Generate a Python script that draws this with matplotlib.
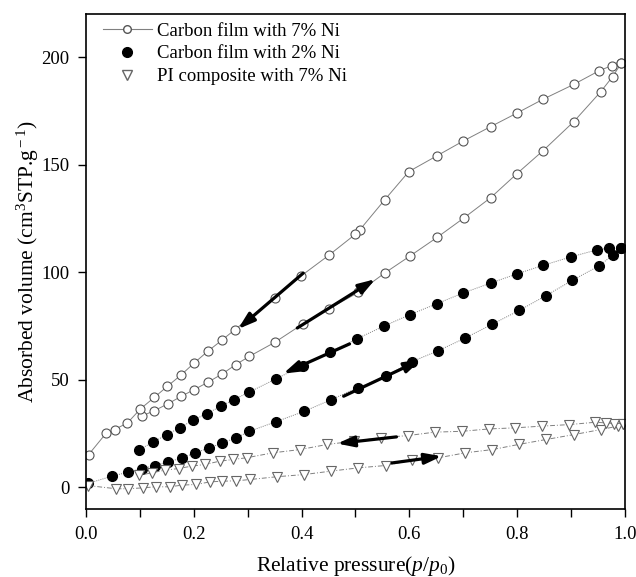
import matplotlib
matplotlib.use('Agg')
import matplotlib.pyplot as plt
from matplotlib.lines import Line2D
import numpy as np

plt.rcParams['font.family'] = ['Liberation Serif', 'DejaVu Serif']
plt.rcParams['mathtext.fontset'] = 'custom'
plt.rcParams['mathtext.rm'] = 'Liberation Serif'
plt.rcParams['mathtext.it'] = 'Liberation Serif:italic'

# Carbon film with 7% Ni (open circles)
c7_ads_x = [0.103, 0.127, 0.153, 0.177, 0.201, 0.227, 0.253, 0.278, 0.303, 0.350,
            0.403, 0.450, 0.505, 0.554, 0.602, 0.652, 0.702, 0.751, 0.799, 0.848,
            0.905, 0.955, 0.977, 0.993]
c7_ads_y = [33.1, 35.7, 39.0, 42.4, 45.5, 49.0, 52.8, 57.1, 60.9, 67.4,
            76.1, 82.9, 90.6, 99.6, 107.7, 116.3, 125.4, 134.7, 145.7, 156.5,
            170.0, 183.9, 190.9, 197.1]
c7_des_x = [0.993, 0.975, 0.951, 0.905, 0.848, 0.799, 0.751, 0.700, 0.651, 0.599,
            0.554, 0.508, 0.500, 0.450, 0.398, 0.350, 0.276, 0.252, 0.226, 0.201,
            0.177, 0.151, 0.127, 0.101, 0.077, 0.053, 0.037, 0.005]
c7_des_y = [197.1, 196.0, 193.5, 187.3, 180.4, 173.9, 167.7, 161.0, 154.1, 146.8,
            133.6, 119.7, 117.7, 107.8, 98.1, 88.0, 73.3, 68.4, 63.3, 57.9,
            52.4, 47.0, 41.9, 36.5, 30.0, 26.9, 25.1, 15.3]

# Carbon film with 2% Ni (filled circles)
c2_ads_x = [0.004, 0.049, 0.078, 0.103, 0.128, 0.153, 0.179, 0.203, 0.229, 0.253,
            0.279, 0.303, 0.352, 0.405, 0.455, 0.504, 0.556, 0.605, 0.654, 0.704,
            0.754, 0.804, 0.853, 0.902, 0.952, 0.978, 0.993]
c2_ads_y = [1.9, 5.3, 7.1, 8.7, 10.2, 11.9, 13.8, 16.1, 18.4, 20.7,
            23.1, 26.1, 30.5, 35.4, 40.8, 46.3, 51.6, 58.5, 63.6, 69.5,
            75.9, 82.3, 89.1, 96.2, 103.0, 108.1, 111.2]
c2_des_x = [0.993, 0.971, 0.948, 0.899, 0.848, 0.799, 0.751, 0.699, 0.651, 0.601,
            0.552, 0.502, 0.452, 0.402, 0.352, 0.302, 0.274, 0.250, 0.224, 0.198,
            0.174, 0.150, 0.124, 0.099]
c2_des_y = [111.2, 111.2, 110.4, 107.1, 103.2, 99.2, 95.0, 90.3, 85.4, 80.3,
            74.9, 69.0, 62.8, 56.6, 50.4, 44.2, 40.8, 37.7, 34.3, 31.2,
            27.7, 24.6, 21.0, 17.6]

# PI composite with 7% Ni (open triangles)
pi_ads_x = [0.003, 0.056, 0.078, 0.105, 0.129, 0.155, 0.179, 0.205, 0.230, 0.253,
            0.279, 0.305, 0.355, 0.405, 0.455, 0.505, 0.556, 0.605, 0.654, 0.704,
            0.754, 0.803, 0.854, 0.906, 0.955, 0.987, 0.996]
pi_ads_y = [0.9, -0.6, -0.6, -0.2, 0.3, 0.3, 1.1, 1.4, 2.6, 2.9,
            3.1, 3.7, 5.0, 6.0, 7.6, 9.1, 10.2, 12.7, 13.8, 16.1,
            17.6, 20.0, 22.3, 24.6, 26.9, 28.5, 29.7]
pi_des_x = [0.996, 0.980, 0.964, 0.945, 0.896, 0.846, 0.796, 0.748, 0.698, 0.647,
            0.597, 0.547, 0.497, 0.448, 0.397, 0.347, 0.298, 0.273, 0.248, 0.221,
            0.196, 0.172, 0.146, 0.122, 0.098]
pi_des_y = [29.7, 29.7, 30.0, 30.3, 29.2, 28.5, 27.7, 27.2, 26.1, 25.7,
            24.1, 23.1, 21.5, 20.0, 17.6, 16.1, 13.8, 13.0, 12.2, 10.7,
            9.9, 8.8, 8.0, 6.8, 5.6]

# arrows: (x_from, y_from, x_to, y_to)
arrows = [(0.403, 99.6, 0.282, 73.6),
          (0.392, 74.1, 0.537, 96.8),
          (0.489, 66.7, 0.366, 52.9),
          (0.478, 42.4, 0.622, 59.4),
          (0.576, 23.5, 0.466, 20.4),
          (0.568, 11.4, 0.660, 14.5)]

fig = plt.figure(figsize=(6.36, 5.77), dpi=100)
ax = fig.add_axes([0.1352, 0.1179, 0.8475, 0.8578])

lc = '#808080'
# open circles
for xs, ys in [(c7_ads_x, c7_ads_y), (c7_des_x, c7_des_y)]:
    ax.plot(xs, ys, '-', color=lc, lw=0.7, marker='o', ms=6.5, mfc='white',
            mec='#555555', mew=0.8)
# filled circles
for xs, ys in [(c2_ads_x, c2_ads_y), (c2_des_x, c2_des_y)]:
    ax.plot(xs, ys, color=lc, lw=0.7, ls=(0, (1, 1.2)), marker='o', ms=7,
            mfc='black', mec='black')
# triangles
for xs, ys in [(pi_ads_x, pi_ads_y), (pi_des_x, pi_des_y)]:
    ax.plot(xs, ys, color=lc, lw=0.7, ls=(0, (5, 2, 1, 2)), marker='v', ms=7.5,
            mfc='white', mec='#666666', mew=0.8)

for x0, y0, x1, y1 in arrows:
    ax.annotate('', xy=(x1, y1), xytext=(x0, y0),
                arrowprops=dict(arrowstyle='-|>,head_length=1.0,head_width=0.32',
                                lw=2.3, color='black', shrinkA=0, shrinkB=0))

ax.set_xlim(0, 1.0)
ax.set_ylim(-10, 220)
ax.set_xticks(np.arange(0, 1.01, 0.2))
ax.set_xticks(np.arange(0.1, 1.0, 0.2), minor=True)
ax.set_yticks([0, 50, 100, 150, 200])
ax.set_xticklabels(['0.0', '0.2', '0.4', '0.6', '0.8', '1.0'])
ax.tick_params(which='both', direction='out', length=6, width=1,
               labelsize=13.5, top=False, right=False, pad=6)
for s in ax.spines.values():
    s.set_linewidth(1.2)

ax.set_xlabel('Relative pressure($\\it{p/p}_{\\rm 0}$)', fontsize=15.5, labelpad=8)
ax.set_ylabel('Absorbed volume (cm$^{\\rm 3}$STP.g$^{\\rm -1}$)', fontsize=15.5, labelpad=0)

handles = [Line2D([], [], color=lc, lw=0.8, marker='o', ms=5.5, mfc='white', mec='#555555'),
           Line2D([], [], ls='none', marker='o', ms=7, mfc='black', mec='black'),
           Line2D([], [], ls='none', marker='v', ms=7, mfc='white', mec='#666666')]
labels = ['Carbon film with 7% Ni', 'Carbon film with 2% Ni', 'PI composite with 7% Ni']
ax.legend(handles, labels, loc='upper left', frameon=False, fontsize=13.5,
          handlelength=2.6, handletextpad=0.3, labelspacing=0.3,
          borderaxespad=0.5, bbox_to_anchor=(0.0, 1.017))

fig.savefig('out.png', dpi=100)
